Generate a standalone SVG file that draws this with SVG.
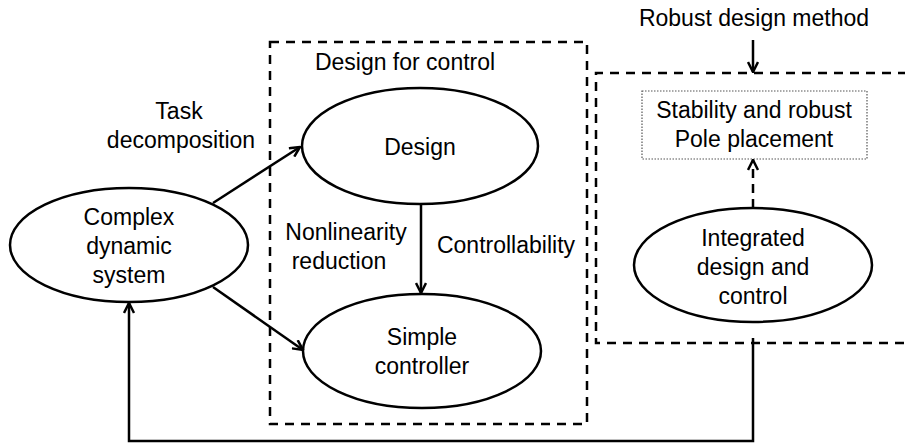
<svg xmlns="http://www.w3.org/2000/svg" width="905" height="444" viewBox="0 0 905 444">
<style>
text{font-family:"Liberation Sans",Arial,sans-serif;font-size:23px;fill:#000;text-anchor:middle}
.node{fill:none;stroke:#000;stroke-width:2.5}
.dash{fill:none;stroke:#000;stroke-width:2.5;stroke-dasharray:9,7}
.conn{fill:none;stroke:#000;stroke-width:2.5}
.dot{fill:none;stroke:#555;stroke-width:1.2;stroke-dasharray:1.5,1.5}
</style>
<defs>
<marker id="arr" viewBox="0 0 12 12" refX="11" refY="6" markerWidth="12" markerHeight="12" markerUnits="userSpaceOnUse" orient="auto">
<path d="M1,1 L11,6 L1,11" fill="none" stroke="#000" stroke-width="2.5"/>
</marker>
</defs>
<rect width="905" height="444" fill="#fff"/>
<g id="design-for-control-box">
<rect class="dash" x="270" y="42" width="317" height="382"/>
<text x="405" y="70">Design for control</text>
</g>
<g id="integrated-box">
<path class="dash" d="M907,73 L596,73 L596,343 L907,343"/>
</g>
<g id="complex">
<ellipse class="node" cx="129" cy="245" rx="119" ry="57"/>
<text x="129" y="225">Complex</text>
<text x="129" y="254">dynamic</text>
<text x="129" y="283">system</text>
</g>
<g id="design">
<ellipse class="node" cx="420" cy="146" rx="118" ry="58"/>
<text x="420" y="155">Design</text>
</g>
<g id="simple">
<ellipse class="node" cx="422" cy="351" rx="119" ry="57"/>
<text x="422" y="345">Simple</text>
<text x="422" y="374">controller</text>
</g>
<g id="integrated">
<ellipse class="node" cx="753" cy="265" rx="119" ry="57"/>
<text x="753" y="246">Integrated</text>
<text x="753" y="275">design and</text>
<text x="753" y="304">control</text>
</g>
<g id="stability">
<rect class="dot" x="642" y="91" width="225" height="68"/>
<text x="754" y="118">Stability and robust</text>
<text x="754" y="147">Pole placement</text>
</g>
<g id="labels">
<text x="754" y="26">Robust design method</text>
<text x="179" y="119">Task</text>
<text x="181" y="148">decomposition</text>
<text x="346" y="240">Nonlinearity</text>
<text x="339" y="269">reduction</text>
<text x="506" y="253">Controllability</text>
</g>
<g id="connectors">
<line class="conn" x1="213" y1="203" x2="300" y2="147" marker-end="url(#arr)"/>
<line class="conn" x1="213" y1="287" x2="303" y2="350" marker-end="url(#arr)"/>
<line class="conn" x1="421" y1="204" x2="421" y2="293" marker-end="url(#arr)"/>
<line class="conn" x1="753" y1="40" x2="753" y2="72" marker-end="url(#arr)"/>
<line class="conn" x1="753" y1="208" x2="753" y2="160" stroke-dasharray="9,6" marker-end="url(#arr)"/>
<path class="conn" d="M753,338 L753,441 L129,441 L129,303" marker-end="url(#arr)"/>
</g>
</svg>
